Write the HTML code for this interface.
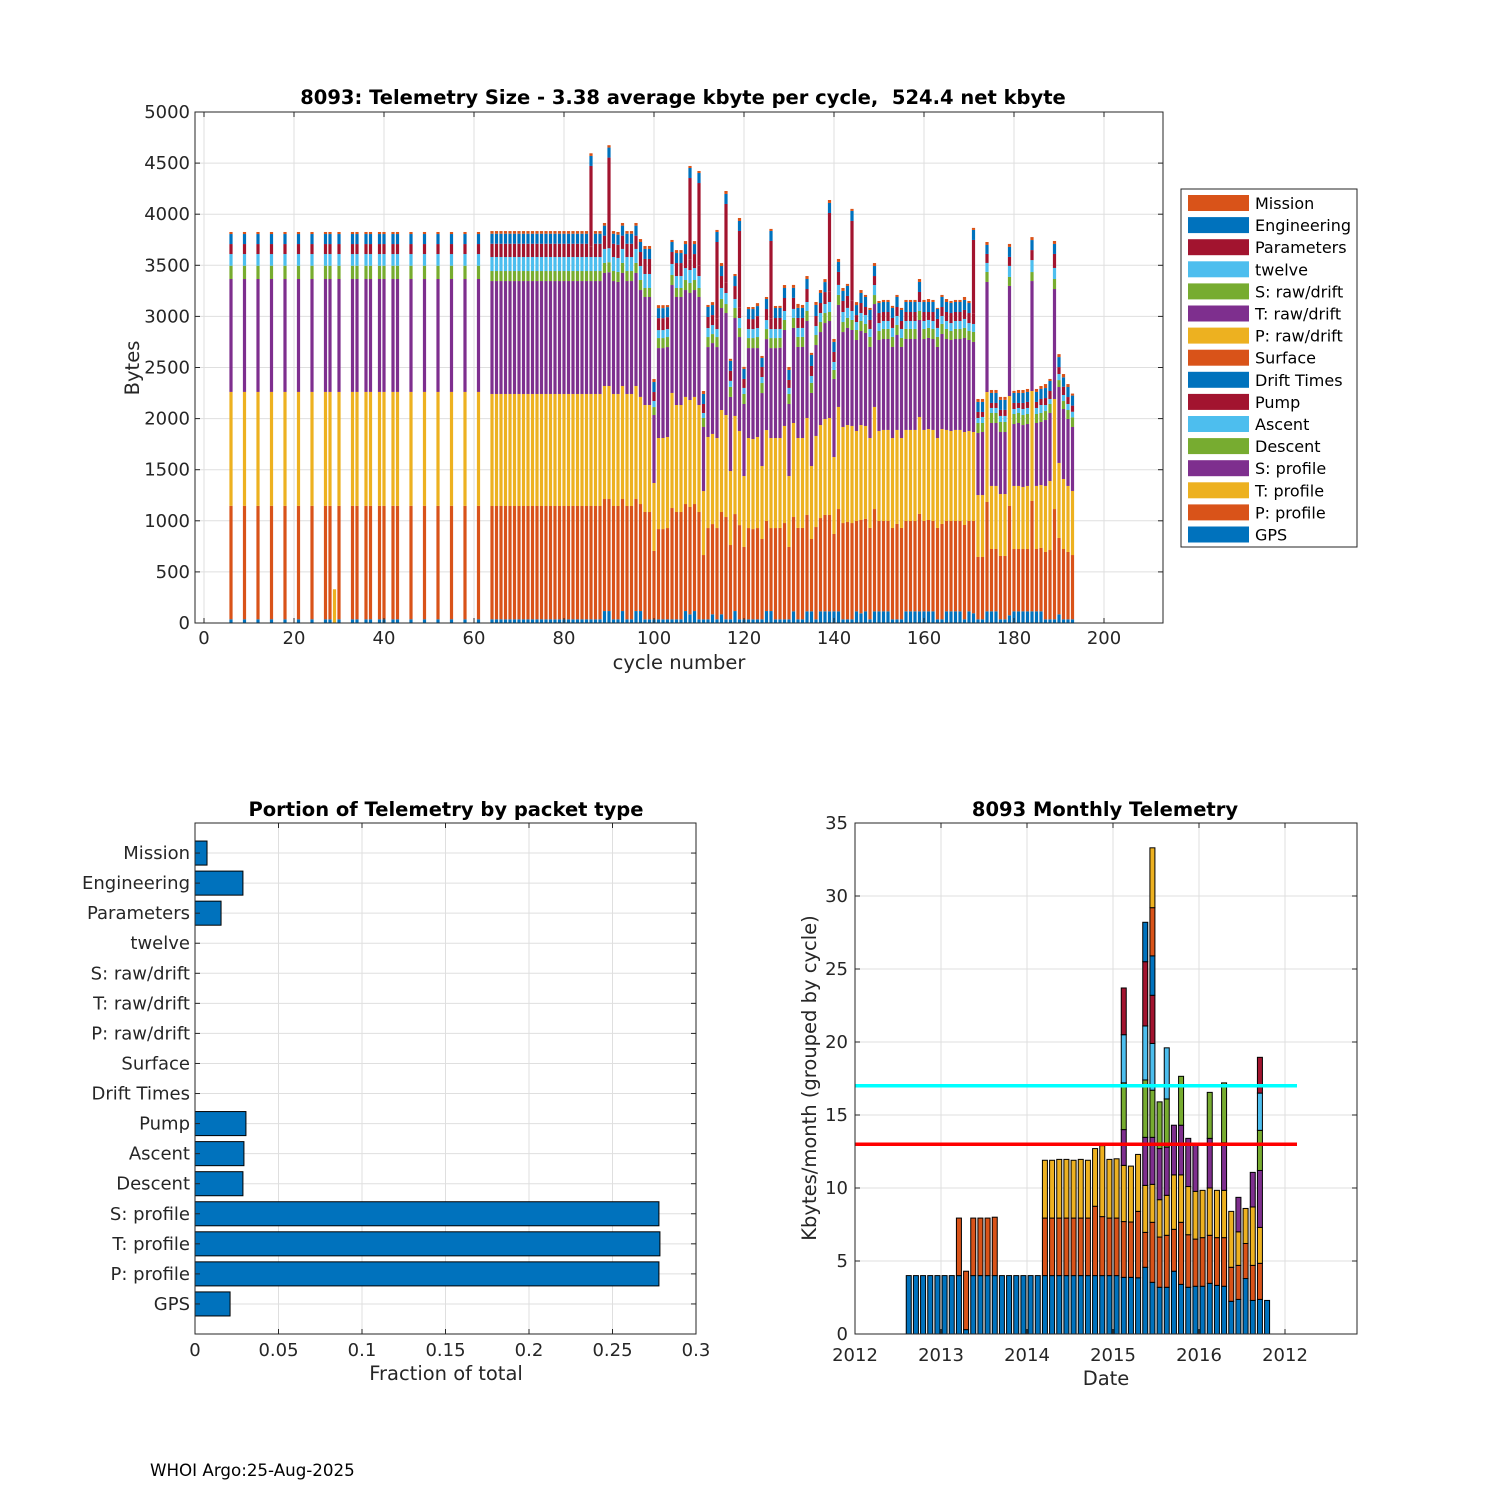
<!DOCTYPE html>
<html><head><meta charset="utf-8"><title>8093 Telemetry</title>
<style>
html,body{margin:0;padding:0;background:#fff;}
svg{display:block;font-family:"DejaVu Sans","Liberation Sans",sans-serif;}
</style></head>
<body>
<svg id="fig" width="1500" height="1500" viewBox="0 0 1500 1500" xmlns="http://www.w3.org/2000/svg">
<rect x="0" y="0" width="1500" height="1500" fill="#fff"/>
<g id="top-chart"></g>
<g id="portion-chart"></g>
<g id="monthly-chart"></g>
<text x="150" y="1476" font-size="16.7" fill="#000">WHOI Argo:25-Aug-2025</text>
</svg>
<script>
// ---------- Top chart data (bytes per cycle, per packet type) ----------
const cycles = [6,9,12,15,18,21,24,27,28,29,30,33,34,36,37,39,40,42,43,46,49,52,55,58,61,
64,65,66,67,68,69,70,71,72,73,74,75,76,77,78,79,80,81,82,83,84,85,86,87,88,89,90,91,92,93,
94,95,96,97,98,99,100,101,102,103,104,105,106,107,108,109,110,111,112,113,114,115,116,117,118,119,
120,121,122,123,124,125,126,127,128,129,130,131,132,133,134,135,136,137,138,139,140,141,142,143,
144,145,146,147,148,149,150,151,152,153,154,155,156,157,158,159,160,161,162,163,164,165,166,167,168,169,
170,171,172,173,174,175,176,177,178,179,180,181,182,183,184,185,186,187,188,189,190,191,192,193];
const gps = [36,36,36,36,36,36,36,36,36,0,36,36,36,36,36,36,36,36,36,36,36,36,36,36,36,
36,36,36,36,36,36,36,36,36,36, 36,36,36,36,36,36,36,36,36,36,
36,36,36,36,36,117,117,36,36,117, 36,36,117,117,36,36,36,36,36,36,
36,36,36,117,85,117,36,36,36,85, 36,85,36,36,117,36,36,36,36,36,
36,117,117,36,36,36,36,114,36,36, 114,114,36,114,114,114,114,114,36,36,
36,114,95,114,36,114,114,114,114,36, 36,36,114,114,114,114,114,114,114,36,
36,114,114,114,114,36,114,95,36,36, 114,114,114,36,36,75,114,114,114,114,
114,114,114,36,36,36,85,36,36,36];
const pProfile = [1110,1110,1110,1110,1110,1110,1110,1110,1110,0,1110,1110,1110,1110,1110,1110,1110,1110,1110,1110,1110,1110,1110,1110,1110,
1109,1109,1109,1109,1109,1109,1109,1109,1109,1109, 1109,1109,1109,1109,1109,1109,1109,1109,1109,1109,
1109,1109,1109,1109,1109,1096,1096,1109,1109,1096, 1109,1109,1096,1047,1050,1050,669,883,883,893,
1089,1050,1050,1047,1050,1047,1050,629,893,883, 893,1001,1001,727,949,922,708,893,883,893,
786,881,812,893,894,942,708,923,894,894, 943,708,903,913,943,943,757,1001,942,952,
942,884,913,904,894,1001,884,884,884,894, 933,894,884,884,884,953,884,894,884,894,
933,884,884,884,884,923,884,903,610,610, 1070,610,610,620,620,1070,610,610,610,610,
1080,610,620,659,678,1079,747,688,659,629];
const tProfile = [1115,1115,1115,1115,1115,1115,1115,1115,1115,330,1115,1115,1115,1115,1115,1115,1115,1115,1115,1115,1115,1115,1115,1115,1115,
1096,1096,1096,1096,1096,1096,1096,1096,1096,1096, 1096,1096,1096,1096,1096,1096,1096,1096,1096,1096,
1096,1096,1096,1096,1096,1106,1106,1096,1096,1106, 1096,1096,1106,1048,1047,1047,665,891,891,891,
1126,1047,1047,1048,1047,1048,1047,626,891,882, 881,998,998,724,960,921,694,881,881,891,
714,890,881,881,880,950,694,920,880,880, 949,714,891,910,939,949,753,999,940,949,
950,881,929,910,880,999,881,891,891,880, 920,880,891,891,891,949,891,890,891,880,
929,891,881,891,891,910,881,871,606,606, 1076,617,617,606,606,1076,617,617,607,617,
1076,617,616,646,675,1077,734,685,646,627];
const sProfile = [1105,1105,1105,1105,1105,1105,1105,1105,1105,0,1105,1105,1105,1105,1105,1105,1105,1105,1105,1105,1105,1105,1105,1105,1105,
1105,1105,1105,1105,1105,1105,1105,1105,1105,1105, 1105,1105,1105,1105,1105,1105,1105,1105,1105,1105,
1105,1105,1105,1105,1105,1106,1113,1105,1096,1106, 1105,1105,1106,1046,1057,1057,665,880,880,880,
1056,1057,1057,1046,1047,1046,1057,627,880,889, 890,998,998,725,958,919,705,880,890,870,
714,890,880,880,884,939,705,930,891,891, 949,715,890,910,939,949,764,998,929,950,
939,890,920,910,891,1007,890,890,890,891, 929,891,890,890,890,949,890,891,890,891,
930,890,890,890,890,920,890,881,607,617, 1077,616,616,607,607,1077,606,616,606,606,
1076,616,617,645,666,1076,743,685,655,626];
const descent = [130,130,130,130,130,130,130,130,130,0,130,130,130,130,130,130,130,130,130,130,130,130,130,130,130,
98,98,98,98,98,98,98,98,98,98, 98,98,98,98,98,98,98,98,98,98,
98,98,98,98,98,98,98,98,98,98, 98,98,98,98,88,88,78,98,98,98,
98,88,88,98,98,98,88,88,98,88, 98,88,88,98,98,88,98,98,98,108,
98,98,98,98,95,98,98,98,98,98, 98,98,98,98,98,88,88,98,98,98,
98,98,98,88,98,88,88,98,98,98, 98,88,98,98,98,88,98,98,98,98,
98,98,88,98,98,98,88,98,98,88, 98,98,98,98,98,88,98,98,98,98,
88,88,88,88,88,98,68,78,88,94];
const ascent = [114,114,114,114,114,114,114,114,114,0,114,114,114,114,114,114,114,114,114,114,114,114,114,114,114,
137,137,137,137,137,137,137,137,137,137, 137,137,137,137,137,137,137,137,137,137,
137,137,137,137,137,137,137,137,137,137, 137,137,137,137,137,137,59,78,78,78,
108,117,117,117,127,117,117,49,88,88, 78,108,108,59,88,98,59,88,88,88,
59,88,88,88,88,88,59,88,88,88, 88,68,88,88,88,98,78,98,98,98,
88,78,78,88,78,98,78,78,78,88, 88,88,78,78,78,88,78,78,78,88,
78,78,78,78,78,88,78,78,49,59, 88,49,49,59,59,108,49,49,59,59,
117,59,78,59,49,108,59,59,59,55];
const pump = [98,98,98,98,98,98,98,98,98,0,98,98,98,98,98,98,98,98,98,98,98,98,98,98,98,
130,130,130,130,130,130,130,130,130,130, 130,130,130,130,130,130,130,130,130,130,
130,130,100,130,130,130,100,130,130,130, 130,130,130,137,147,147,88,117,117,117,
117,127,127,137,100,137,100,88,108,98, 100,117,100,98,127,100,88,98,98,117,
98,108,100,108,108,127,78,108,98,98, 127,98,98,98,117,100,98,127,108,117,
100,68,98,78,88,88,98,88,88,98, 88,78,88,88,88,98,88,78,88,88,
88,88,98,88,88,88,98,100,59,49, 88,49,49,59,59,88,59,49,59,59,
98,59,59,68,78,137,68,81,68,60];
const parameters = [0,0,0,0,0,0,0,0,0,0,0,0,0,0,0,0,0,0,0,0,0,0,0,0,0,
0,0,0,0,0,0,0,0,0,0, 0,0,0,0,0,0,0,0,0,0,
0,0,791,0,0,0,787,0,0,0, 0,0,0,0,0,0,0,0,0,0,
0,0,0,0,800,0,810,0,0,0, 752,0,771,0,0,752,0,0,0,0,
0,0,762,0,0,0,0,0,0,0, 0,0,0,0,0,771,0,0,0,0,
781,0,0,0,0,0,0,0,0,0, 0,0,0,0,0,0,0,0,0,0,
0,0,0,0,0,0,0,722,0,0, 0,0,0,0,0,0,0,0,0,0,
0,0,0,0,0,0,0,0,0,0];
const engineering = [98,98,98,98,98,98,98,98,98,0,98,98,98,98,98,98,98,98,98,98,98,98,98,98,98,
98,98,98,98,98,98,98,98,98,98, 98,98,98,98,98,98,98,98,98,98,
98,98,98,98,98,98,98,98,98,98, 98,98,98,98,98,98,98,98,98,98,
98,98,98,98,98,98,98,98,98,98, 98,98,98,98,98,98,98,98,98,98,
88,98,98,98,98,98,98,98,98,98, 98,108,108,98,98,98,98,98,98,98,
98,98,98,98,98,98,98,98,98,98, 98,108,98,98,98,98,98,98,98,98,
98,98,98,98,98,98,98,98,98,98, 88,98,98,98,98,98,98,98,98,98,
98,98,98,98,98,98,98,92,98,98];
const mission = [20,20,20,20,20,20,20,20,20,0,20,20,20,20,20,20,20,20,20,20,20,20,20,20,20,
26,26,26,26,26,26,26,26,26,26, 26,26,26,26,26,26,26,26,26,26,
26,26,26,26,26,26,23,26,26,26, 26,26,26,29,29,29,29,29,29,20,
20,29,29,29,20,29,20,29,20,29, 20,29,29,20,20,29,20,20,20,29,
20,20,20,20,20,29,29,29,39,29, 29,20,29,29,29,29,29,29,29,20,
20,29,29,20,20,29,20,20,20,20, 20,20,20,20,20,29,20,29,20,10,
20,29,20,20,20,29,20,20,29,29, 29,29,29,29,29,29,20,29,29,29,
29,29,29,39,20,29,29,32,29,20];
const topYTicks = [0,500,1000,1500,2000,2500,3000,3500,4000,4500,5000];
const topXTicks = [0,20,40,60,80,100,120,140,160,180,200];

// ---------- Portion chart data ----------
const packetTypes = ["Mission","Engineering","Parameters","twelve","S: raw/drift","T: raw/drift","P: raw/drift","Surface","Drift Times","Pump","Ascent","Descent","S: profile","T: profile","P: profile","GPS"];
const portionValues = [0.0072,0.0287,0.0156,0,0,0,0,0,0,0.0305,0.0293,0.0287,0.2778,0.2784,0.2778,0.021];
const portionXTicks = [0,0.05,0.1,0.15,0.2,0.25,0.3];
const portionXTickLabels = ["0","0.05","0.1","0.15","0.2","0.25","0.3"];

// ---------- Monthly chart data (kbytes per month, stacked layers) ----------
const monthIndex = [7,8,9,10,11,12,13,14,15,16,17,18,19,20,21,22,23,24,25,26,27,28,29,30,31,32,33,34,35,36,37,38,39,40,41,42,43,44,45,46,47,48,49,50,51,52,53,54,55,56,57];
const mLayer0 = [4,4,4,4,4,4,4,4,0.3,4,4,4,4,4,4,4,4,4,4,4,4,4,4,4,4,4,4,4,4,4,3.88,3.88,3.85,4.57,3.54,3.2,3.2,4.3,3.4,3.2,3.27,3.27,3.47,3.33,3.27,2.24,2.37,3.8,2.3,2.37,2.3];
const mLayer1 = [0,0,0,0,0,0,0,3.94,4.0,3.94,3.94,3.94,4.0,0,0,0,0,0,0,3.94,3.94,3.94,3.94,3.94,3.94,3.94,4.75,4.04,3.94,3.94,3.82,3.79,4.55,2.39,4.11,3.44,3.56,2.87,4.25,3.6,3.23,3.33,3.29,3.27,3.33,2.33,2.33,2.4,2.4,2.47,0];
const mLayer2 = [0,0,0,0,0,0,0,0,0,0,0,0,0,0,0,0,0,0,0,3.96,3.96,4.02,4.02,3.96,4.02,3.96,3.95,4.86,4.02,4.06,3.85,3.83,3.9,3.22,2.6,2.56,2.74,3.73,3.25,3.3,3.27,3.24,3.24,3.24,3.24,3.83,2.3,2.4,4.0,2.46,0];
const mLayer3 = [0,0,0,0,0,0,0,0,0,0,0,0,0,0,0,0,0,0,0,0,0,0,0,0,0,0,0,0,0,0,2.45,0,0,3.29,3.22,3.5,3.3,3.4,3.4,3.3,3.23,0,3.4,0,3.26,0,2.36,0,2.37,3.9,0];
const mLayer4 = [0,0,0,0,0,0,0,0,0,0,0,0,0,0,0,0,0,0,0,0,0,0,0,0,0,0,0,0,0,0,3.2,0,0,3.93,3.23,3.2,3.3,0,3.35,0,0,0,3.15,0,4.1,0,0,0,0,2.75,0];
const mLayer5 = [0,0,0,0,0,0,0,0,0,0,0,0,0,0,0,0,0,0,0,0,0,0,0,0,0,0,0,0,0,0,3.3,0,0,3.7,3.2,0,3.5,0,0,0,0,0,0,0,0,0,0,0,0,2.55,0];
const mLayer6 = [0,0,0,0,0,0,0,0,0,0,0,0,0,0,0,0,0,0,0,0,0,0,0,0,0,0,0,0,0,0,3.2,0,0,4.4,3.3,0,0,0,0,0,0,0,0,0,0,0,0,0,0,2.45,0];
const mLayer7 = [0,0,0,0,0,0,0,0,0,0,0,0,0,0,0,0,0,0,0,0,0,0,0,0,0,0,0,0,0,0,0,0,0,2.7,2.7,0,0,0,0,0,0,0,0,0,0,0,0,0,0,0,0];
const mLayer8 = [0,0,0,0,0,0,0,0,0,0,0,0,0,0,0,0,0,0,0,0,0,0,0,0,0,0,0,0,0,0,0,0,0,0,3.3,0,0,0,0,0,0,0,0,0,0,0,0,0,0,0,0];
const mLayer9 = [0,0,0,0,0,0,0,0,0,0,0,0,0,0,0,0,0,0,0,0,0,0,0,0,0,0,0,0,0,0,0,0,0,0,4.1,0,0,0,0,0,0,0,0,0,0,0,0,0,0,0,0];
const monthlyYTicks = [0,5,10,15,20,25,30,35];
const yearTickLabels = ["2012","2013","2014","2015","2016","2012"];
const thresholdHigh = 17;
const thresholdLow = 13;

// ---------- helpers ----------
const NS = "http://www.w3.org/2000/svg";
function mk(parent, tag, attrs, text) {
  const el = document.createElementNS(NS, tag);
  for (const k in attrs) el.setAttribute(k, attrs[k]);
  if (text !== undefined) el.textContent = text;
  parent.appendChild(el);
  return el;
}
const C = {blue:"#0072BD",orange:"#D95319",yellow:"#EDB120",purple:"#7E2F8E",green:"#77AC30",lb:"#4DBEEE",red:"#A2142F"};
const GRID = "#dfdfdf";
const TICKF = 18, LABF = 19.5, TITF = 19.5;

// ================= TOP CHART =================
(function(){
  const g = document.getElementById("top-chart");
  const L = 195, R = 1163, T = 112, B = 623;
  const xs = c => 204 + c * 4.5;
  const ys = v => 623 - v * (511 / 5000);
  mk(g,"rect",{x:L,y:T,width:R-L,height:B-T,fill:"#fff"});
  topYTicks.forEach(t=>{
    const l = mk(g,"line",{x1:L,x2:R,y1:ys(t),y2:ys(t),stroke:GRID,"stroke-width":1});
    
    
    const tx = mk(g,"text",{x:L-5,y:ys(t)+6,"font-size":TICKF,"text-anchor":"end",fill:"#262626"},String(t));
    
    
  });
  topXTicks.forEach(t=>{
    const l = mk(g,"line",{x1:xs(t),x2:xs(t),y1:T,y2:B,stroke:GRID,"stroke-width":1});
    
    
    const tx = mk(g,"text",{x:xs(t),y:B+21,"font-size":TICKF,"text-anchor":"middle",fill:"#262626"},String(t));
    
    
  });
  const layers = [[gps,C.blue],[pProfile,C.orange],[tProfile,C.yellow],[sProfile,C.purple],[descent,C.green],[ascent,C.lb],[pump,C.red],[parameters,C.red],[engineering,C.blue],[mission,C.orange]];
  const bw = 3.2;
  cycles.forEach((c,i)=>{
    let base = 0;
    layers.forEach(([arr,col])=>{
      const v = arr[i];
      if (v > 0) {
        const r = mk(g,"rect",{x:xs(c)-bw/2,y:ys(base+v),width:bw,height:ys(base)-ys(base+v),fill:col});
        
        
      }
      base += v;
    });
  });
  mk(g,"rect",{x:L,y:T,width:R-L,height:B-T,fill:"none",stroke:"#262626","stroke-width":1});
  topYTicks.forEach(t=>{
    mk(g,"line",{x1:L,x2:L+5,y1:ys(t),y2:ys(t),stroke:"#262626"});
    mk(g,"line",{x1:R-5,x2:R,y1:ys(t),y2:ys(t),stroke:"#262626"});
  });
  topXTicks.forEach(t=>{
    mk(g,"line",{x1:xs(t),x2:xs(t),y1:B-5,y2:B,stroke:"#262626"});
    mk(g,"line",{x1:xs(t),x2:xs(t),y1:T,y2:T+5,stroke:"#262626"});
  });
  const title = mk(g,"text",{x:683,y:104,"font-size":TITF,"font-weight":"bold","text-anchor":"middle",fill:"#000","xml:space":"preserve"},"8093: Telemetry Size - 3.38 average kbyte per cycle,  524.4 net kbyte");
  title.setAttribute('style','white-space:pre');
  
  
  const xl = mk(g,"text",{x:679,y:669,"font-size":LABF,"text-anchor":"middle",fill:"#262626"},"cycle number");
  
  
  const yl = mk(g,"text",{x:0,y:0,"font-size":LABF,"text-anchor":"middle",fill:"#262626",transform:"translate(139,368) rotate(-90)"},"Bytes");
  
  
  // legend
  const lg = mk(g,"g",{});
  
  
  mk(lg,"rect",{x:1181,y:189,width:176,height:358,fill:"#fff",stroke:"#262626","stroke-width":1});
  const legCols = [C.orange,C.blue,C.red,C.lb,C.green,C.purple,C.yellow,C.orange,C.blue,C.red,C.lb,C.green,C.purple,C.yellow,C.orange,C.blue];
  packetTypes.forEach((name,k)=>{
    const y = 203 + k*22.1;
    const e = mk(lg,"g",{});
    
    
    mk(e,"rect",{x:1188,y:y-8,width:61,height:16,fill:legCols[k]});
    mk(e,"text",{x:1255,y:y+6,"font-size":16,fill:"#000"},name);
  });
})();

// ================= PORTION CHART =================
(function(){
  const g = document.getElementById("portion-chart");
  const L = 195, R = 696, T = 823, B = 1334;
  const xp = v => L + v / 0.3 * (R - L);
  const pitch = (B - T) / (packetTypes.length + 1);
  const yc = k => T + (k + 1) * pitch;
  portionXTicks.forEach((t,i)=>{
    const l = mk(g,"line",{x1:xp(t),x2:xp(t),y1:T,y2:B,stroke:GRID});
    
    
    const tx = mk(g,"text",{x:xp(t),y:B+22,"font-size":TICKF,"text-anchor":"middle",fill:"#262626"},portionXTickLabels[i]);
    
    
  });
  packetTypes.forEach((name,k)=>{
    mk(g,"line",{x1:L,x2:R,y1:yc(k),y2:yc(k),stroke:GRID});
    const tx = mk(g,"text",{x:L-5,y:yc(k)+6,"font-size":TICKF,"text-anchor":"end",fill:"#262626"},name);
    
    
  });
  packetTypes.forEach((name,k)=>{
    const v = portionValues[k];
    if (v > 0) {
      const r = mk(g,"rect",{x:L,y:yc(k)-pitch*0.4,width:xp(v)-L,height:pitch*0.8,fill:C.blue,stroke:"#000","stroke-width":1});
      
      
    }
  });
  mk(g,"rect",{x:L,y:T,width:R-L,height:B-T,fill:"none",stroke:"#262626"});
  portionXTicks.forEach(t=>{
    mk(g,"line",{x1:xp(t),x2:xp(t),y1:B-5,y2:B,stroke:"#262626"});
    mk(g,"line",{x1:xp(t),x2:xp(t),y1:T,y2:T+5,stroke:"#262626"});
  });
  packetTypes.forEach((n,k)=>{
    mk(g,"line",{x1:L,x2:L+5,y1:yc(k),y2:yc(k),stroke:"#262626"});
    mk(g,"line",{x1:R-5,x2:R,y1:yc(k),y2:yc(k),stroke:"#262626"});
  });
  const title = mk(g,"text",{x:446,y:816,"font-size":TITF,"font-weight":"bold","text-anchor":"middle",fill:"#000"},"Portion of Telemetry by packet type");
  
  
  const xl = mk(g,"text",{x:446,y:1380,"font-size":LABF,"text-anchor":"middle",fill:"#262626"},"Fraction of total");
  
  
})();

// ================= MONTHLY CHART =================
(function(){
  const g = document.getElementById("monthly-chart");
  const L = 855, R = 1357, T = 823, B = 1334;
  const xm = m => L + (m + 0.5) * (86 / 12);
  const ym = v => B - v * (511 / 35);
  const xYear = k => L + k * 86;
  monthlyYTicks.forEach(t=>{
    const l = mk(g,"line",{x1:L,x2:R,y1:ym(t),y2:ym(t),stroke:GRID});
    
    
    const tx = mk(g,"text",{x:L-7,y:ym(t)+6,"font-size":TICKF,"text-anchor":"end",fill:"#262626"},String(t));
    
    
  });
  yearTickLabels.forEach((lab,k)=>{
    const l = mk(g,"line",{x1:xYear(k),x2:xYear(k),y1:T,y2:B,stroke:GRID});
    
    
    const tx = mk(g,"text",{x:xYear(k),y:B+27,"font-size":TICKF,"text-anchor":"middle",fill:"#262626"},lab);
    
    
  });
  const layers = [[mLayer0,C.blue],[mLayer1,C.orange],[mLayer2,C.yellow],[mLayer3,C.purple],[mLayer4,C.green],[mLayer5,C.lb],[mLayer6,C.red],[mLayer7,C.blue],[mLayer8,C.orange],[mLayer9,C.yellow]];
  const bw = 5;
  monthIndex.forEach((m,i)=>{
    let base = 0;
    layers.forEach(([arr,col])=>{
      const v = arr[i];
      if (v > 0) {
        const r = mk(g,"rect",{x:xm(m)-bw/2,y:ym(base+v),width:bw,height:ym(base)-ym(base+v),fill:col,stroke:"#000","stroke-width":1});
        
        
      }
      base += v;
    });
  });
  const lineEnd = 1297;
  const hl = mk(g,"line",{x1:L,x2:lineEnd,y1:ym(thresholdHigh),y2:ym(thresholdHigh),stroke:"#00FFFF","stroke-width":3.5});
  
  
  const rl = mk(g,"line",{x1:L,x2:lineEnd,y1:ym(thresholdLow),y2:ym(thresholdLow),stroke:"#FF0000","stroke-width":3.5});
  
  
  mk(g,"rect",{x:L,y:T,width:R-L,height:B-T,fill:"none",stroke:"#262626"});
  monthlyYTicks.forEach(t=>{
    mk(g,"line",{x1:L,x2:L+5,y1:ym(t),y2:ym(t),stroke:"#262626"});
    mk(g,"line",{x1:R-5,x2:R,y1:ym(t),y2:ym(t),stroke:"#262626"});
  });
  yearTickLabels.forEach((lab,k)=>{
    mk(g,"line",{x1:xYear(k),x2:xYear(k),y1:B-5,y2:B,stroke:"#262626"});
    mk(g,"line",{x1:xYear(k),x2:xYear(k),y1:T,y2:T+5,stroke:"#262626"});
  });
  const title = mk(g,"text",{x:1105,y:816,"font-size":TITF,"font-weight":"bold","text-anchor":"middle",fill:"#000"},"8093 Monthly Telemetry");
  
  
  const xl = mk(g,"text",{x:1106,y:1385,"font-size":LABF,"text-anchor":"middle",fill:"#262626"},"Date");
  
  
  const yl = mk(g,"text",{x:0,y:0,"font-size":LABF,"text-anchor":"middle",fill:"#262626",transform:"translate(816,1078) rotate(-90)"},"Kbytes/month (grouped by cycle)");
  
  
})();
</script>
</body></html>
